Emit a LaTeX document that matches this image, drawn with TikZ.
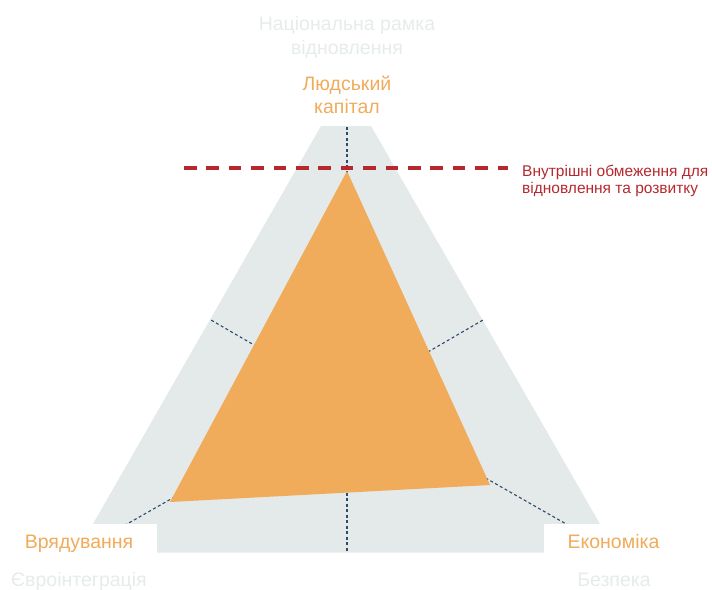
\documentclass[tikz,border=0pt]{standalone}
\usepackage{fontspec}
\setmainfont{Liberation Sans}
\usepackage{tikz}
\usetikzlibrary{calc}
\definecolor{frame}{HTML}{E4E9E9}
\definecolor{dimtext}{HTML}{E6EBEB}
\definecolor{pillar}{HTML}{F0AB5B}
\definecolor{axisblue}{HTML}{2E4A6B}
\definecolor{limitred}{HTML}{B5292E}

\begin{document}
\begin{tikzpicture}[
  x=1pt, y=-1pt,
  axis/.style    = {draw=axisblue, line width=1.1pt, dash pattern=on 3pt off 2.5pt},
  limit/.style   = {draw=limitred, line width=3.3pt, dash pattern=on 12.5pt off 9.9pt},
  dimlbl/.style  = {font=\fontsize{19.5}{23.5}\selectfont, text=dimtext, align=center, inner sep=0pt},
  pillbl/.style  = {font=\fontsize{19.5}{22.5}\selectfont, text=pillar, align=center, inner sep=0pt},
  notelbl/.style = {font=\fontsize{15.5}{17.5}\selectfont, text=limitred, align=left, inner sep=0pt},
]
\useasboundingbox (0,0) rectangle (712,589);
\coordinate (ctr) at (347,399);
\coordinate (apexl) at (321,126);
\coordinate (apexr) at (371,126);
\coordinate (cornl) at (76.5,552.7);
\coordinate (cornr) at (616.5,552.7);
\coordinate (top) at (347,126);
\coordinate (midl) at (211,320);
\coordinate (midr) at (483,320);
\coordinate (midb) at (347,552.7);
\coordinate (hcap) at (347,171);
\coordinate (econv) at (490,485);
\coordinate (govv) at (170,502);
\fill[frame] (apexl) -- (apexr) -- (cornr) -- (cornl) -- cycle;
\foreach \p in {top, midl, midr, cornl, cornr, midb}
  \draw[axis] (ctr) -- (\p);
\fill[pillar] (hcap) -- (econv) -- (govv) -- cycle;
\fill[white] (0,524) rectangle (157,589);
\fill[white] (544,524) rectangle (712,589);
\coordinate (lim0) at (184,168);
\coordinate (lim1) at (508,168);
\draw[limit] (lim0) -- (lim1);
% base anchor sits on the last line
\node[notelbl, anchor=base west] (limtxt) at (522,193.5) {Внутрішні обмеження для\\відновлення та розвитку};
\node[dimlbl, anchor=base] (natl) at (347,54.2) {Національна рамка\\відновлення};
\node[pillbl, anchor=base] (human) at (347,113.2) {Людський\\капітал};
\node[pillbl, anchor=base] (gov) at (79,548) {Врядування};
\node[pillbl, anchor=base] (econ) at (613.5,548) {Економіка};
\node[dimlbl, anchor=base] (euro) at (79,586) {Євроінтеграція};
\node[dimlbl, anchor=base] (sec) at (614,586) {Безпека};
\end{tikzpicture}
\end{document}
